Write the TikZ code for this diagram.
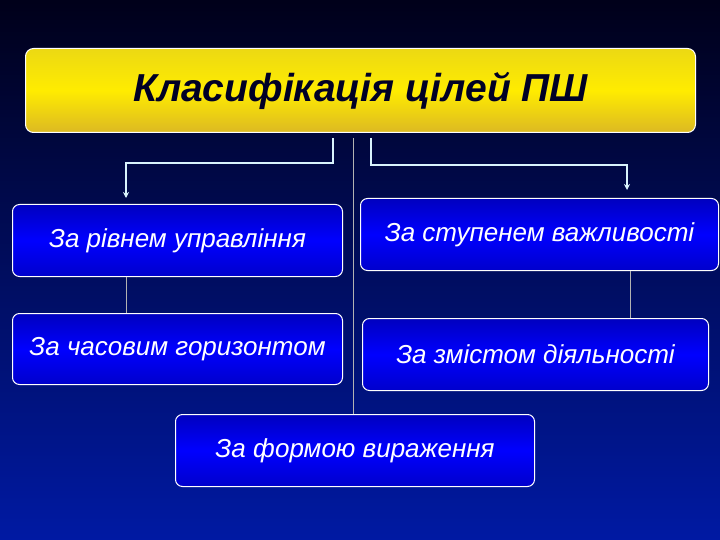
\documentclass[tikz,border=0pt]{standalone}
\usepackage{fontspec}
\usetikzlibrary{arrows.meta}
\setmainfont{Liberation Sans}
\begin{document}
\begin{tikzpicture}[x=1pt,y=-1pt,
  box/.style={draw=white,line width=1pt,rounded corners=7pt,top color=blue!75!black,bottom color=blue!80!black,middle color=blue,
    text=white,font=\itshape\fontsize{26}{30}\selectfont,anchor=north west,inner sep=0pt},
  conn/.style={draw=white!85!cyan,line width=1.5pt},
  thin/.style={draw=gray!60,line width=1pt}]
\shade[top color=black!90!blue,bottom color=blue!60!black!90!cyan] (0,0) rectangle (720,540);
\useasboundingbox (0,0) rectangle (720,540);
\node[draw=white,line width=1pt,rounded corners=8pt,top color=yellow!70!brown,bottom color=yellow!45!brown,middle color=yellow!85!orange,
  text=black!85!blue,anchor=north west,minimum width=670pt,minimum height=84pt,font=\bfseries\itshape\fontsize{39}{44}\selectfont] (t) at (25,48) {Класифікація цілей ПШ};
\node[box,minimum width=330pt,minimum height=72pt] (a) at (12,204) {За рівнем управління};
\node[box,minimum width=358pt,minimum height=72pt] (b) at (360,198) {За ступенем важливості};
\node[box,minimum width=330pt,minimum height=71pt] (c) at (12,313) {За часовим горизонтом};
\node[box,minimum width=346pt,minimum height=72pt] (d) at (362,318) {За змістом діяльності};
\node[box,minimum width=359pt,minimum height=72pt] (e) at (175,414) {За формою вираження};
\coordinate (l0) at (333,138); \coordinate (l1) at (126,198);
\coordinate (r0) at (371,138); \coordinate (r1) at (627,190);
\draw[conn,-{Stealth[length=6pt,width=6pt]}] (l0) |- (126,163) -- (l1);
\draw[conn,-{Stealth[length=6pt,width=6pt]}] (r0) |- (627,165) -- (r1);
\draw[thin] (353,138) -- (e.north -| 353,0);
\draw[thin] (a.south -| 126,0) -- (c.north -| 126,0);
\draw[thin] (b.south -| 630,0) -- (d.north -| 630,0);
\end{tikzpicture}
\end{document}
